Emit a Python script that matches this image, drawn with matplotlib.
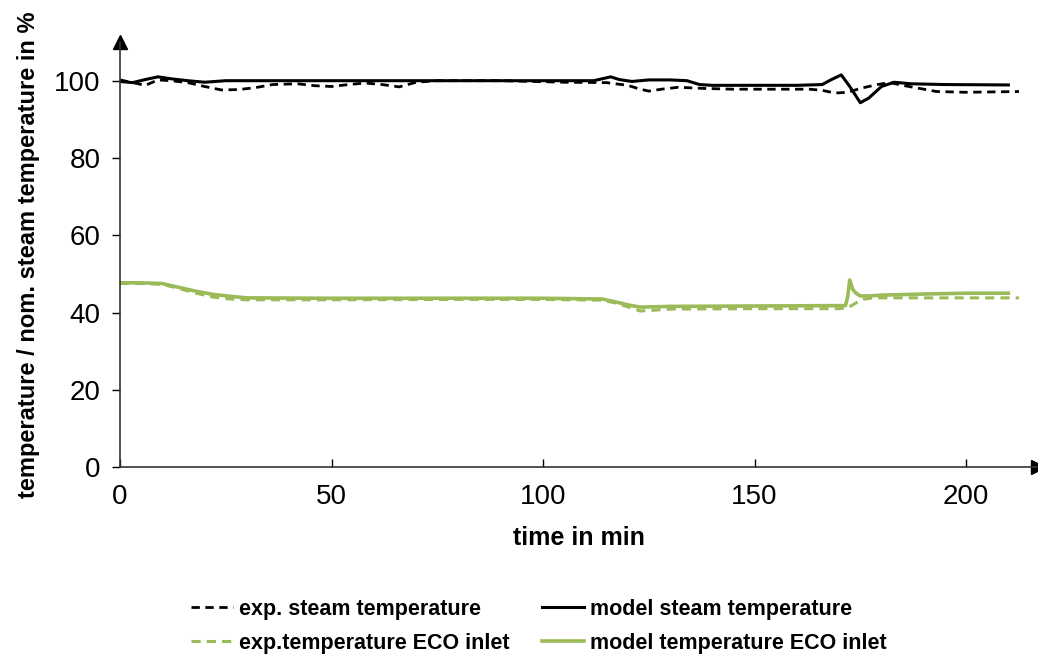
import matplotlib.pyplot as plt

plt.rcParams['font.family'] = ['Liberation Sans', 'DejaVu Sans']

GREEN = '#9bbb59'

# steam temperature, model and measurement (% of nominal)
t_model_steam = [0, 3, 6, 9, 12, 16, 20, 25, 30, 40, 60, 80, 100, 112, 114, 116, 118, 121,
                 125, 130, 134, 137, 140, 150, 160, 166, 168, 170.5, 172.5, 175, 177, 180,
                 183, 187, 195, 210]
model_steam = [99.8, 99.5, 100.3, 101.0, 100.5, 100.0, 99.6, 100.0, 100.0, 100.0, 100.0,
               100.0, 100.0, 100.0, 100.5, 101.0, 100.3, 99.8, 100.2, 100.2, 100.0, 99.0,
               98.8, 98.8, 98.8, 99.0, 100.2, 101.5, 98.5, 94.3, 95.5, 98.5, 99.6, 99.2,
               99.0, 98.9]

t_exp_steam = [0, 3, 6, 9, 12, 16, 20, 24, 28, 32, 36, 42, 46, 50, 54, 58, 62, 66, 70, 75,
               90, 105, 115, 120, 123, 125, 128, 132, 138, 145, 155, 163, 166, 169, 172,
               175, 179, 182, 185, 189, 193, 200, 212.5]
exp_steam = [100.2, 99.5, 98.8, 100.2, 100.0, 99.5, 98.5, 97.6, 97.7, 98.2, 99.0, 99.2,
             98.7, 98.5, 99.0, 99.4, 99.0, 98.4, 99.6, 100.0, 100.0, 99.6, 99.5, 98.8,
             97.8, 97.3, 97.8, 98.3, 98.0, 97.8, 97.8, 97.8, 97.5, 96.8, 97.0, 98.0, 99.0,
             99.5, 98.8, 98.0, 97.2, 97.0, 97.2]

# ECO inlet temperature, model and measurement
t_model_eco = [0, 5, 10, 14, 18, 22, 26, 30, 50, 80, 100, 114, 117, 120, 123, 130, 150,
               171.5, 172, 172.5, 173.2, 174, 175, 177, 180, 190, 200, 210]
model_eco = [47.7, 47.7, 47.5, 46.5, 45.5, 44.7, 44.2, 43.8, 43.7, 43.7, 43.7, 43.5, 42.8,
             42.0, 41.4, 41.6, 41.7, 41.8, 44.0, 48.4, 46.0, 45.0, 44.3, 44.3, 44.5, 44.8,
             45.0, 45.0]

t_exp_eco = [0, 5, 10, 14, 18, 22, 26, 30, 50, 80, 100, 114, 117, 120, 123, 126, 130, 150,
             170, 172, 174, 176, 178, 180, 190, 200, 212.5]
exp_eco = [47.5, 47.5, 47.3, 46.2, 45.0, 44.0, 43.5, 43.3, 43.3, 43.4, 43.4, 43.2, 42.5,
           41.5, 40.4, 40.6, 40.9, 41.0, 41.0, 41.2, 42.5, 43.5, 43.8, 43.8, 43.8, 43.8, 43.8]

fig = plt.figure(figsize=(10.38, 6.57), dpi=100)
ax = fig.add_axes([0.1156, 0.289, 0.8844, 0.647])

dash = (0, (3, 2))
h1, = ax.plot(t_exp_steam, exp_steam, color='black', lw=2.0, ls=dash,
              label='exp. steam temperature')
h2, = ax.plot(t_model_steam, model_steam, color='black', lw=2.2,
              label='model steam temperature')
h3, = ax.plot(t_exp_eco, exp_eco, color=GREEN, lw=2.2, ls=dash,
              label='exp.temperature ECO inlet')
h4, = ax.plot(t_model_eco, model_eco, color=GREEN, lw=2.6,
              label='model temperature ECO inlet')

ax.set_xlim(0, 217)
ax.set_ylim(0, 110)
ax.set_xticks([0, 50, 100, 150, 200])
ax.set_yticks([0, 20, 40, 60, 80, 100])
ax.tick_params(axis='x', direction='in', length=6, width=1, labelsize=20, pad=12)
ax.tick_params(axis='y', direction='out', length=6, width=1, labelsize=20, pad=8)

for s in ['top', 'right']:
    ax.spines[s].set_visible(False)
for s in ['left', 'bottom']:
    ax.spines[s].set_linewidth(1.2)
    ax.spines[s].set_color('#333333')

# arrow heads at the ends of the axes
ax.plot(1, 0, '>', color='black', ms=10, transform=ax.transAxes, clip_on=False)
ax.plot(0, 1, '^', color='black', ms=10, transform=ax.transAxes, clip_on=False)

ax.set_xlabel('time in min', fontsize=18, fontweight='bold', labelpad=12)
ax.set_ylabel('temperature / nom. steam temperature in %', fontsize=17,
              fontweight='bold', labelpad=10)

fig.legend([h1, h3, h2, h4],
           [h1.get_label(), h3.get_label(), h2.get_label(), h4.get_label()],
           loc='center', bbox_to_anchor=(0.519, 0.047), ncol=2, frameon=False,
           prop={'size': 15.5, 'weight': 'bold'}, handlelength=1.95, handletextpad=0.28,
           columnspacing=1.5, labelspacing=0.6)

fig.savefig('out.png', dpi=100)
